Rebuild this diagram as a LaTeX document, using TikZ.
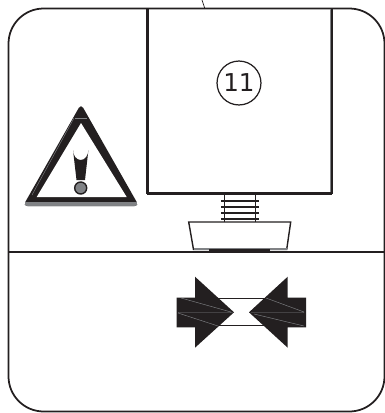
\documentclass[tikz,border=0pt]{standalone}
\usepackage{fontspec}
\setmainfont{DejaVu Sans}
\definecolor{inkblack}{HTML}{231F20}
\definecolor{inkgray}{HTML}{808285}
\tikzset{
    frameline/.style={draw=inkblack, line width=1pt},
    boxline/.style={draw=inkblack, line width=1.5pt},
    solidpart/.style={fill=inkblack, draw=none},
    hairline/.style={draw=inkgray, line width=0.25pt},
    numcircle/.style={circle, draw=inkblack, line width=0.7pt, minimum size=25pt, inner sep=0pt, font=\fontsize{14}{15}\selectfont, text=inkblack}
}
\begin{document}
\begin{tikzpicture}[x=0.02cm, y=-0.02cm]
    \useasboundingbox (0, 0) rectangle (385, 413);

    % outer frame
    \draw[frameline, rounded corners=20pt] (8.5, 8.5) rectangle (384.5, 411.5);
    \draw[frameline] (8.5, 252.3) -- (384.5, 252.3);

    % unit with number
    \draw[boxline] (147.5, 8.7) -- (147.5, 193.5);
    \draw[boxline] (331.7, 8.7) -- (331.7, 193.5);
    \draw[boxline, line width=1.9pt] (147, 193.5) -- (332.4, 193.5);
    \draw[inkgray, line width=0.4pt] (330, 9) -- (330, 192);
    \node[numcircle] (num) at (239, 83) {11};
    \coordinate (leadtop) at (202, 0);
    \coordinate (leadend) at (204.8, 8.5);
    \draw[inkblack, line width=0.4pt] (leadtop) -- (leadend);

    % screw
    \draw[inkblack, line width=0.7pt] (224.3, 194) -- (224.3, 222);
    \draw[inkblack, line width=0.7pt] (255.3, 194) -- (255.3, 222);
    \foreach \y in {200.7, 206.7, 212.7, 218.7} {
        \draw[inkblack, line width=1pt] (221, \y) -- (259, \y);
    }

    % foot
    \draw[inkblack, line width=0.8pt, fill=white] (188.7, 222) -- (193.5, 249.5) -- (286.7, 249.5) -- (290.7, 222) -- cycle;
    \fill[inkgray] (193.5, 247.5) rectangle (286.7, 250);
    \fill[inkblack] (209.3, 249) rectangle (270, 253);

    % warning sign
    \fill[inkblack, rounded corners=2.5pt] (81, 104) -- (139, 206) -- (23, 206) -- cycle;
    \fill[white] (81, 123) -- (36.7, 197) -- (126.7, 197) -- cycle;
    \begin{scope}
        \clip[rounded corners=2.5pt] (81, 104) -- (139, 206) -- (23, 206) -- cycle;
        \fill[inkgray] (20, 201.5) rectangle (142, 207);
    \end{scope}
    \draw[inkgray, line width=0.25pt] (74, 118) -- (32, 195);
    \draw[inkgray, line width=0.25pt] (75, 118.5) -- (87, 118.5);
    \fill[inkblack] (73, 150) arc[start angle=180, end angle=0, x radius=7.7, y radius=10]
        -- (85, 180) -- (76.5, 180) -- cycle;
    \fill[inkgray] (80.7, 188) circle[radius=6];
    \draw[inkblack, line width=0.8pt] (80.7, 188) circle[radius=6];

    % left arrow
    \fill[solidpart] (176.7, 297.7) -- (195, 297.7) -- (195, 276.7) -- (234, 312.3)
        -- (195, 347.7) -- (195, 327.3) -- (176.7, 327.3) -- cycle;
    % right arrow
    \fill[solidpart] (306, 297.7) -- (287.7, 297.7) -- (287.7, 276.7) -- (249, 312.3)
        -- (287.7, 347.7) -- (287.7, 327.3) -- (306, 327.3) -- cycle;

    % thin lines between the arrows
    \draw[inkblack, line width=0.8pt] (216, 298.3) -- (266, 298.3);
    \draw[inkblack, line width=0.8pt] (216, 325.5) -- (266, 325.5);

    % hairlines inside the arrows
    \draw[hairline] (181, 298) -- (231, 312) (178, 312.5) -- (233, 312.5) (178, 313) -- (218, 326);
    \draw[hairline] (266, 298) -- (304, 312) (251, 312.5) -- (304, 312.5) (254, 314) -- (304, 326);
\end{tikzpicture}
\end{document}
